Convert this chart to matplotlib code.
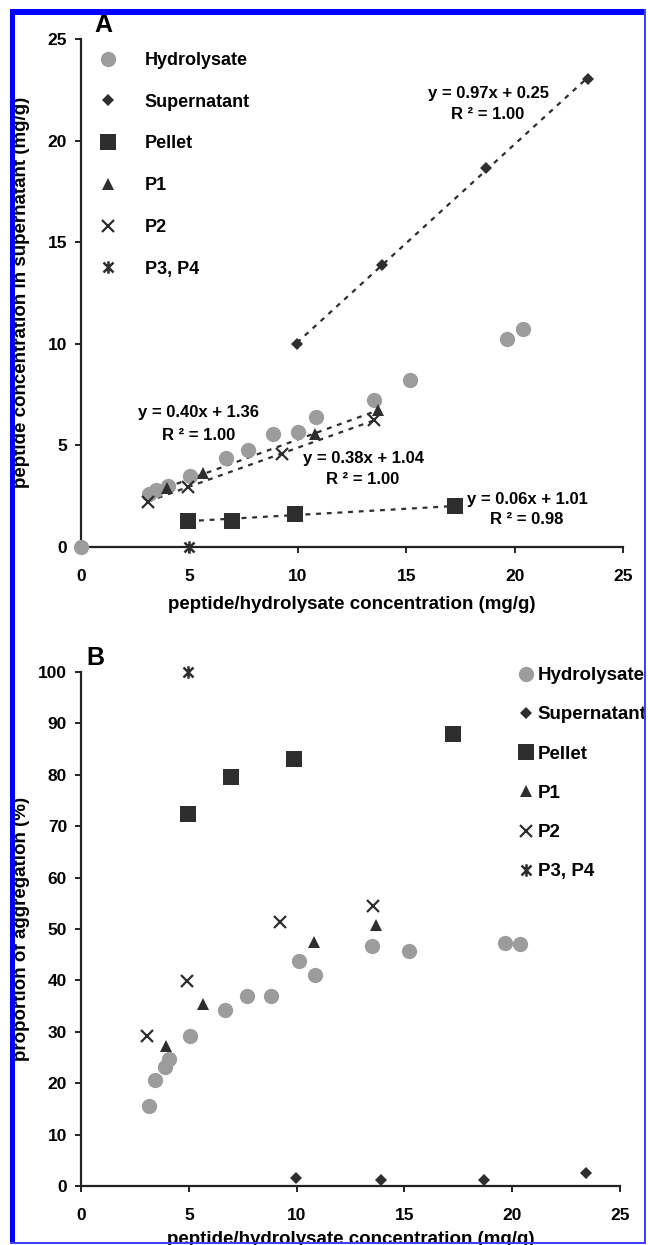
import numpy as np
import matplotlib
matplotlib.use('Agg')
import matplotlib.pyplot as plt
from matplotlib.path import Path
from matplotlib.lines import Line2D
from matplotlib.patches import Rectangle

plt.rcParams['font.family'] = ['Liberation Sans', 'DejaVu Sans']
plt.rcParams['font.weight'] = 'bold'

# Datos
series = ['Hydrolysate', 'Supernatant', 'Pellet', 'P1', 'P2', 'P3, P4']

hyd_x_a = [0, 3.13, 3.47, 4.0, 5.03, 6.68, 7.72, 8.85, 9.99, 10.85, 13.5, 15.16, 19.64, 20.37]
hyd_y_a = [0, 2.6, 2.79, 2.99, 3.48, 4.35, 4.78, 5.57, 5.67, 6.39, 7.21, 8.21, 10.25, 10.7]
hyd_x_b = [3.16, 3.45, 3.89, 4.08, 5.04, 6.67, 7.7, 8.83, 10.1, 10.86, 13.52, 15.2, 19.67, 20.36]
hyd_y_b = [15.6, 20.6, 23.2, 24.7, 29.2, 34.2, 37.0, 37.0, 43.8, 41.0, 46.6, 45.8, 47.3, 47.0]

sup_x = [9.96, 13.9, 18.67, 23.4]
sup_y_a = [10.0, 13.88, 18.64, 23.05]
sup_y_b = [1.5, 1.2, 1.2, 2.6]

pel_x = [4.95, 6.95, 9.88, 17.27]
pel_y_a = [1.29, 1.29, 1.63, 1.99]
pel_y_b = [72.3, 79.6, 83.1, 87.9]

p1_x = [3.95, 5.65, 10.8, 13.68]
p1_y_a = [2.87, 3.65, 5.56, 6.72]
p1_y_b = [27.3, 35.5, 47.5, 50.8]

p2_x = [3.08, 4.92, 9.25, 13.53]
p2_y_a = [2.22, 2.95, 4.56, 6.24]
p2_y_b = [29.2, 39.9, 51.3, 54.5]

p34_x = [4.97]
p34_y_a = [0]
p34_y_b = [100]

# ecuaciones de las lineas de tendencia (panel A)
eq_text = ['y = 0.97x + 0.25', 'y = 0.40x + 1.36', 'y = 0.38x + 1.04', 'y = 0.06x + 1.01']
r2_text = ['R ² = 1.00', 'R ² = 1.00', 'R ² = 1.00', 'R ² = 0.98']
eq_pos = [(18.8, 22.3), (5.44, 6.6), (13.05, 4.35), (20.6, 2.32)]
r2_pos = [(18.75, 21.3), (5.44, 5.47), (13.0, 3.32), (20.55, 1.33)]

gris = '#9c9c9c'
oscuro = '#2e2e2e'

# marcador estrella tipo Excel (X con linea vertical)
star = Path([(-1, -1), (1, 1), (-1, 1), (1, -1), (0, -1.25), (0, 1.25)],
            [Path.MOVETO, Path.LINETO, Path.MOVETO, Path.LINETO, Path.MOVETO, Path.LINETO])

estilos = {
    'Hydrolysate': dict(marker='o', color=gris, ms=11, mew=0),
    'Supernatant': dict(marker='D', color=oscuro, ms=6.5, mew=0),
    'Pellet': dict(marker='s', color=oscuro, ms=11, mew=0),
    'P1': dict(marker='^', color=oscuro, ms=8.5, mew=0),
    'P2': dict(marker='x', color=oscuro, ms=8.5, mew=1.6),
    'P3, P4': dict(marker=star, color=oscuro, ms=9, mew=1.8),
}


def puntos(ax, x, y, nombre):
    ax.plot(x, y, linestyle='none', clip_on=False, zorder=3, **estilos[nombre])


def tendencia(ax, x, y):
    coef = np.polyfit(x, y, 1)
    xs = np.array([min(x), max(x)])
    ax.plot(xs, np.polyval(coef, xs), color=oscuro, lw=1.6,
            linestyle=(0, (2.2, 2.6)), zorder=2)


def ejes(ax, ymax, ystep):
    ax.set_xlim(0, 25)
    ax.set_ylim(0, ymax)
    ax.set_xticks(np.arange(0, 26, 5))
    ax.set_yticks(np.arange(0, ymax + 1, ystep))
    for s in ['top', 'right']:
        ax.spines[s].set_visible(False)
    for s in ['left', 'bottom']:
        ax.spines[s].set_linewidth(1.6)
        ax.spines[s].set_color('#222222')
    ax.tick_params(direction='out', length=4, width=1.4, color='#222222',
                   labelsize=12.5)
    ax.tick_params(axis='x', pad=12)
    ax.tick_params(axis='y', pad=6)


def leyenda(ax, x0, y0, fs, spacing, textpad):
    handles = [Line2D([], [], linestyle='none', **estilos[n]) for n in series]
    ax.legend(handles, series, loc='upper left', bbox_to_anchor=(x0 / 648, 1 - y0 / 1245),
              bbox_transform=fig.transFigure, frameon=False, borderpad=0,
              borderaxespad=0, handlelength=1.0, handletextpad=textpad,
              labelspacing=spacing, prop=dict(size=fs, weight='bold'))


fig = plt.figure(figsize=(6.48, 12.45), dpi=100)

# Panel A
ax1 = fig.add_axes([81 / 648, 1 - 546.7 / 1245, (623 - 81) / 648, (546.7 - 39) / 1245])
ejes(ax1, 25, 5)
tendencia(ax1, sup_x, sup_y_a)
tendencia(ax1, pel_x, pel_y_a)
tendencia(ax1, p1_x, p1_y_a)
tendencia(ax1, p2_x, p2_y_a)
puntos(ax1, hyd_x_a, hyd_y_a, 'Hydrolysate')
puntos(ax1, sup_x, sup_y_a, 'Supernatant')
puntos(ax1, pel_x, pel_y_a, 'Pellet')
puntos(ax1, p1_x, p1_y_a, 'P1')
puntos(ax1, p2_x, p2_y_a, 'P2')
puntos(ax1, p34_x, p34_y_a, 'P3, P4')
for t, p in zip(eq_text, eq_pos):
    ax1.text(p[0], p[1], t, ha='center', va='center', fontsize=12, fontweight='bold')
for t, p in zip(r2_text, r2_pos):
    ax1.text(p[0], p[1], t, ha='center', va='center', fontsize=12, fontweight='bold')
ax1.set_xlabel('peptide/hydrolysate concentration (mg/g)', fontsize=13.5, fontweight='bold')
ax1.set_ylabel('peptide concentration in supernatant (mg/g)', fontsize=13.5, fontweight='bold')
ax1.xaxis.set_label_coords(0.5, -0.098)
ax1.yaxis.set_label_coords(-0.094, 0.5)
leyenda(ax1, 99, 52, 13, 1.37, 1.53)
fig.text(103 / 648, 1 - 25 / 1245, 'A', ha='center', va='center', fontsize=18, fontweight='bold')

# Panel B
ax2 = fig.add_axes([81 / 648, 1 - 1186 / 1245, (620 - 81) / 648, (1186 - 672) / 1245])
ejes(ax2, 100, 10)
puntos(ax2, hyd_x_b, hyd_y_b, 'Hydrolysate')
puntos(ax2, sup_x, sup_y_b, 'Supernatant')
puntos(ax2, pel_x, pel_y_b, 'Pellet')
puntos(ax2, p1_x, p1_y_b, 'P1')
puntos(ax2, p2_x, p2_y_b, 'P2')
puntos(ax2, p34_x, p34_y_b, 'P3, P4')
ax2.set_xlabel('peptide/hydrolysate concentration (mg/g)', fontsize=13.5, fontweight='bold')
ax2.set_ylabel('proportion of aggregation (%)', fontsize=13.5, fontweight='bold')
ax2.xaxis.set_label_coords(0.5, -0.088)
ax2.yaxis.set_label_coords(-0.094, 0.5)
leyenda(ax2, 517, 667, 13.5, 1.18, 0.1)
fig.text(95 / 648, 1 - 658 / 1245, 'B', ha='center', va='center', fontsize=18, fontweight='bold')

# marco azul
fig.add_artist(Rectangle((10 / 648, 1 - 15 / 1245), 636 / 648, 6 / 1245, transform=fig.transFigure,
                         color='#0000ff', lw=0, zorder=10))
fig.add_artist(Rectangle((10 / 648, 1 - 1244 / 1245), 5 / 648, 1235 / 1245, transform=fig.transFigure,
                         color='#0000ff', lw=0, zorder=10))
fig.add_artist(Rectangle((644 / 648, 1 - 1244 / 1245), 2 / 648, 1235 / 1245, transform=fig.transFigure,
                         color='#4040ff', lw=0, zorder=10))
fig.add_artist(Rectangle((10 / 648, 1 - 1244 / 1245), 636 / 648, 2 / 1245, transform=fig.transFigure,
                         color='#4040ff', lw=0, zorder=10))

fig.savefig('out.png', dpi=100)
